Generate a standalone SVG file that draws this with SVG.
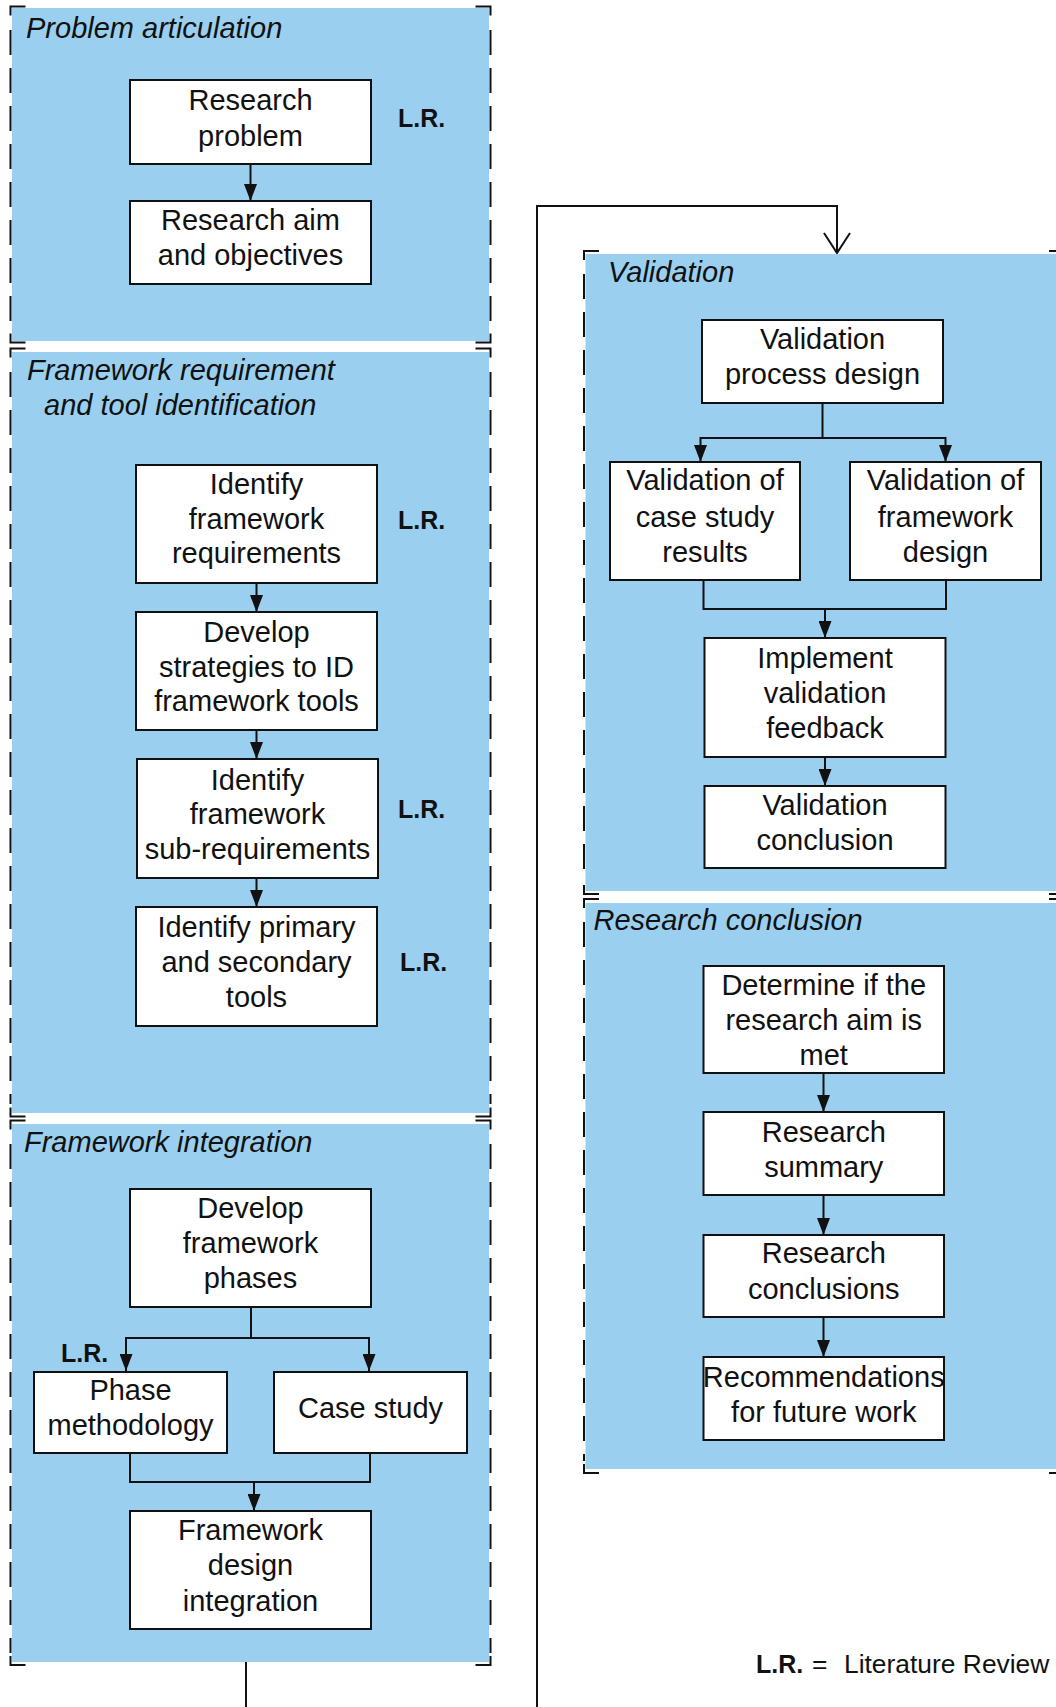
<svg xmlns="http://www.w3.org/2000/svg" width="1056" height="1707" viewBox="0 0 1056 1707">
  <style>
    .bg { fill: #9acff0; }
    .corner { fill: none; stroke: #111; stroke-width: 2; }
    .side { fill: none; stroke: #111; stroke-width: 2; stroke-dasharray: 25 13; }
    .box { fill: #fff; stroke: #111; stroke-width: 2; }
    .txt { font-family: "Liberation Sans", Arial, sans-serif; font-size: 29px; fill: #111; text-anchor: middle; }
    .ttl { font-family: "Liberation Sans", Arial, sans-serif; font-size: 29px; font-style: italic; fill: #111; }
    .lr { font-family: "Liberation Sans", Arial, sans-serif; font-size: 25px; font-weight: bold; fill: #111; }
    .leg { font-family: "Liberation Sans", Arial, sans-serif; font-size: 26.4px; fill: #111; }
    .conn { fill: none; stroke: #111; stroke-width: 2; }
  </style>
  <defs>
    <marker id="arrow" viewBox="0 0 17 13" refX="17" refY="6.5" markerWidth="17" markerHeight="13" markerUnits="userSpaceOnUse" orient="auto">
      <path d="M0,0 L17,6.5 L0,13 z" fill="#111"/>
    </marker>
    <marker id="open" viewBox="0 0 22 28" refX="21" refY="14" markerWidth="22" markerHeight="28" markerUnits="userSpaceOnUse" orient="auto">
      <path d="M1,1 L21,14 L1,27" fill="none" stroke="#111" stroke-width="2"/>
    </marker>
  </defs>

  <!-- Phase panels -->
  <g id="panel-problem">
    <rect class="bg" x="12" y="8" width="477" height="333"/>
    <path class="corner" d="M25.5,6.5 H10.5 V15.5 M10.5,333.5 V342.5 H25.5 M475.5,6.5 H490.5 V15.5 M490.5,333.5 V342.5 H475.5"/>
    <path class="side" d="M10.5,30 V330 M490.5,30 V330"/>
    <text class="ttl" x="26" y="38">Problem articulation</text>
  </g>
  <g id="panel-requirements">
    <rect class="bg" x="12" y="352" width="477" height="761"/>
    <path class="corner" d="M25.5,348.5 H10.5 V357.5 M10.5,1107.5 V1116.5 H25.5 M475.5,348.5 H490.5 V357.5 M490.5,1107.5 V1116.5 H475.5"/>
    <path class="side" d="M10.5,372 V1104 M490.5,372 V1104"/>
    <text class="ttl" x="27" y="380">Framework requirement</text>
    <text class="ttl" x="44" y="415">and tool identification</text>
  </g>
  <g id="panel-integration">
    <rect class="bg" x="12" y="1124" width="477" height="538"/>
    <path class="corner" d="M25.5,1120.5 H10.5 V1129.5 M10.5,1656 V1665 H25.5 M475.5,1120.5 H490.5 V1129.5 M490.5,1656 V1665 H475.5"/>
    <path class="side" d="M10.5,1144 V1653 M490.5,1144 V1653"/>
    <text class="ttl" x="24" y="1152">Framework integration</text>
  </g>
  <g id="panel-validation">
    <rect class="bg" x="585.5" y="254" width="480" height="637"/>
    <path class="corner" d="M599,251 H584 V260 M584,885 V894 H599 M1049,251 H1064 V260 M1064,885 V894 H1049"/>
    <path class="side" d="M584,274 V882 M1064,274 V882"/>
    <text class="ttl" x="608" y="282">Validation</text>
  </g>
  <g id="panel-conclusion">
    <rect class="bg" x="585.5" y="903" width="480" height="566"/>
    <path class="corner" d="M599,899 H584 V908 M584,1464 V1473 H599 M1049,899 H1064 V908 M1064,1464 V1473 H1049"/>
    <path class="side" d="M584,922 V1461 M1064,922 V1461"/>
    <text class="ttl" x="593.5" y="930">Research conclusion</text>
  </g>

  <!-- Connectors -->
  <g id="connectors">
    <path class="conn" d="M250.5,164 V201" marker-end="url(#arrow)"/>
    <path class="conn" d="M256.5,583 V612" marker-end="url(#arrow)"/>
    <path class="conn" d="M256.5,730 V759" marker-end="url(#arrow)"/>
    <path class="conn" d="M256.5,878 V907" marker-end="url(#arrow)"/>
    <path class="conn" d="M251,1307 V1338 H126 V1371" marker-end="url(#arrow)"/>
    <path class="conn" d="M251,1338 H369 V1371" marker-end="url(#arrow)"/>
    <path class="conn" d="M130,1453 V1482 H370 V1453"/>
    <path class="conn" d="M254,1482 V1511" marker-end="url(#arrow)"/>
    <path class="conn" d="M246,1662 V1730 H537 V206 H837 V253" marker-end="url(#open)"/>
    <path class="conn" d="M822.5,403 V438 H700.5 V462" marker-end="url(#arrow)"/>
    <path class="conn" d="M822.5,438 H945.5 V462" marker-end="url(#arrow)"/>
    <path class="conn" d="M703.5,580 V609 H946 V580"/>
    <path class="conn" d="M825,609 V638" marker-end="url(#arrow)"/>
    <path class="conn" d="M825,757 V786" marker-end="url(#arrow)"/>
    <path class="conn" d="M823.5,1073 V1112" marker-end="url(#arrow)"/>
    <path class="conn" d="M823.5,1195 V1235" marker-end="url(#arrow)"/>
    <path class="conn" d="M823.5,1317 V1357" marker-end="url(#arrow)"/>
  </g>

  <!-- Steps: problem articulation -->
  <g id="research-problem">
    <rect class="box" x="130" y="80" width="241" height="84"/>
    <text class="txt" x="250.5" y="110">Research</text>
    <text class="txt" x="250.5" y="146">problem</text>
  </g>
  <g id="research-aim">
    <rect class="box" x="130" y="201" width="241" height="83"/>
    <text class="txt" x="250.5" y="230">Research aim</text>
    <text class="txt" x="250.5" y="265">and objectives</text>
  </g>

  <!-- Steps: framework requirement and tool identification -->
  <g id="identify-requirements">
    <rect class="box" x="136" y="465" width="241" height="118"/>
    <text class="txt" x="256.5" y="494">Identify</text>
    <text class="txt" x="256.5" y="529">framework</text>
    <text class="txt" x="256.5" y="563">requirements</text>
  </g>
  <g id="develop-strategies">
    <rect class="box" x="136" y="612" width="241" height="118"/>
    <text class="txt" x="256.5" y="642">Develop</text>
    <text class="txt" x="256.5" y="677">strategies to ID</text>
    <text class="txt" x="256.5" y="711">framework tools</text>
  </g>
  <g id="identify-sub-requirements">
    <rect class="box" x="137" y="759" width="241" height="119"/>
    <text class="txt" x="257.5" y="790">Identify</text>
    <text class="txt" x="257.5" y="824">framework</text>
    <text class="txt" x="257.5" y="859">sub-requirements</text>
  </g>
  <g id="identify-tools">
    <rect class="box" x="136" y="907" width="241" height="119"/>
    <text class="txt" x="256.5" y="937">Identify primary</text>
    <text class="txt" x="256.5" y="972">and secondary</text>
    <text class="txt" x="256.5" y="1007">tools</text>
  </g>

  <!-- Steps: framework integration -->
  <g id="develop-phases">
    <rect class="box" x="130" y="1189" width="241" height="118"/>
    <text class="txt" x="250.5" y="1218">Develop</text>
    <text class="txt" x="250.5" y="1253">framework</text>
    <text class="txt" x="250.5" y="1288">phases</text>
  </g>
  <g id="phase-methodology">
    <rect class="box" x="34" y="1372" width="193" height="81"/>
    <text class="txt" x="130.5" y="1400">Phase</text>
    <text class="txt" x="130.5" y="1435">methodology</text>
  </g>
  <g id="case-study">
    <rect class="box" x="274" y="1372" width="193" height="81"/>
    <text class="txt" x="370.5" y="1418">Case study</text>
  </g>
  <g id="design-integration">
    <rect class="box" x="130" y="1511" width="241" height="118"/>
    <text class="txt" x="250.5" y="1540">Framework</text>
    <text class="txt" x="250.5" y="1575">design</text>
    <text class="txt" x="250.5" y="1611">integration</text>
  </g>

  <!-- Literature review markers -->
  <g id="lr-labels">
    <text class="lr" x="398" y="127">L.R.</text>
    <text class="lr" x="398" y="529">L.R.</text>
    <text class="lr" x="398" y="818">L.R.</text>
    <text class="lr" x="400" y="971">L.R.</text>
    <text class="lr" x="61" y="1362">L.R.</text>
  </g>

  <!-- Steps: validation -->
  <g id="validation-design">
    <rect class="box" x="702" y="320" width="241" height="83"/>
    <text class="txt" x="822.5" y="349">Validation</text>
    <text class="txt" x="822.5" y="384">process design</text>
  </g>
  <g id="validation-case-study">
    <rect class="box" x="610" y="462" width="190" height="118"/>
    <text class="txt" x="705" y="490">Validation of</text>
    <text class="txt" x="705" y="527">case study</text>
    <text class="txt" x="705" y="562">results</text>
  </g>
  <g id="validation-framework">
    <rect class="box" x="850" y="462" width="191" height="118"/>
    <text class="txt" x="945.5" y="490">Validation of</text>
    <text class="txt" x="945.5" y="527">framework</text>
    <text class="txt" x="945.5" y="562">design</text>
  </g>
  <g id="validation-feedback">
    <rect class="box" x="704.5" y="638" width="241" height="119"/>
    <text class="txt" x="825" y="668">Implement</text>
    <text class="txt" x="825" y="703">validation</text>
    <text class="txt" x="825" y="738">feedback</text>
  </g>
  <g id="validation-conclusion">
    <rect class="box" x="704.5" y="786" width="241" height="82"/>
    <text class="txt" x="825" y="815">Validation</text>
    <text class="txt" x="825" y="850">conclusion</text>
  </g>

  <!-- Steps: research conclusion -->
  <g id="aim-met">
    <rect class="box" x="703.5" y="966" width="240.5" height="107"/>
    <text class="txt" x="823.75" y="995">Determine if the</text>
    <text class="txt" x="823.75" y="1030">research aim is</text>
    <text class="txt" x="823.75" y="1065">met</text>
  </g>
  <g id="research-summary">
    <rect class="box" x="703.5" y="1112" width="240.5" height="83"/>
    <text class="txt" x="823.75" y="1142">Research</text>
    <text class="txt" x="823.75" y="1177">summary</text>
  </g>
  <g id="research-conclusions">
    <rect class="box" x="703.5" y="1235" width="240.5" height="82"/>
    <text class="txt" x="823.75" y="1263">Research</text>
    <text class="txt" x="823.75" y="1299">conclusions</text>
  </g>
  <g id="recommendations">
    <rect class="box" x="703.5" y="1357" width="240.5" height="83"/>
    <text class="txt" x="823.75" y="1387">Recommendations</text>
    <text class="txt" x="823.75" y="1422">for future work</text>
  </g>

  <!-- Legend -->
  <g id="legend">
    <text class="lr" x="756" y="1673">L.R.</text>
    <text class="leg" x="812" y="1673">=</text>
    <text class="leg" x="844" y="1673">Literature Review</text>
  </g>
</svg>
